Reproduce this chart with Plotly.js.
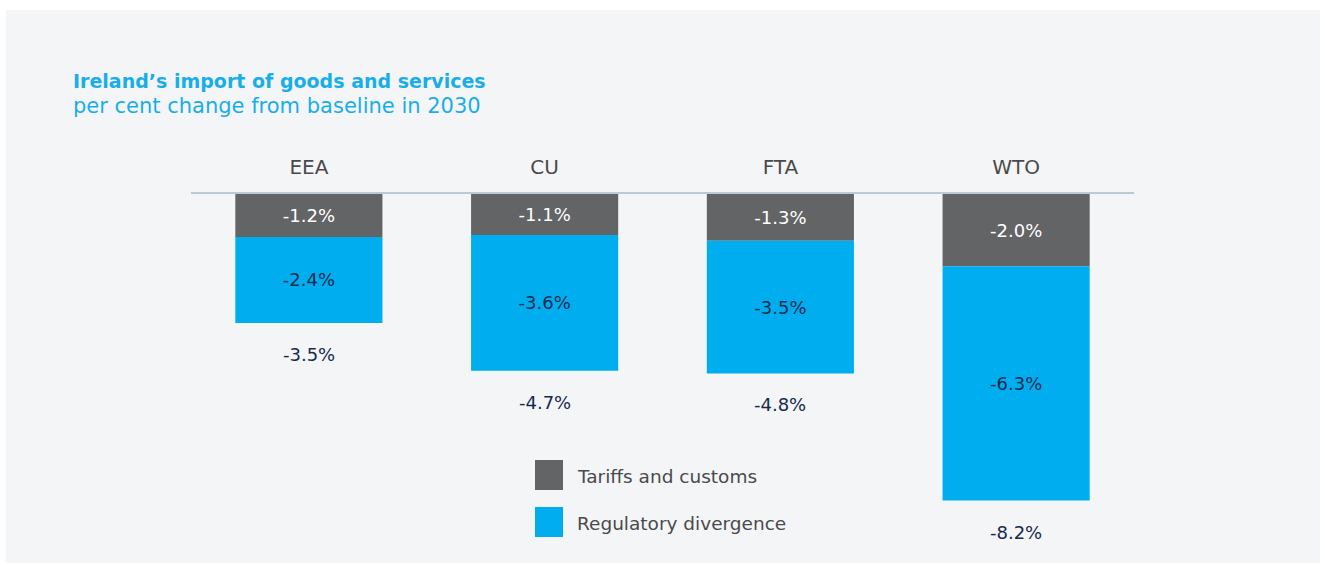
<!DOCTYPE html>
<html>
<head>
<meta charset="utf-8">
<script src="https://cdn.plot.ly/plotly-3.0.1.min.js"></script>
<style>
  html, body { margin: 0; padding: 0; background: #ffffff; }
  #panel { position: absolute; left: 6px; top: 10px; width: 1314px; height: 553px; background: #f4f5f7; }
  #chart { width: 1314px; height: 553px; }
</style>
</head>
<body>
<div id="panel"><div id="chart"></div></div>
<script>
// ---- data ----
const categories = ["EEA", "CU", "FTA", "WTO"];
const tariffs = [-1.15, -1.1, -1.25, -1.93];
const regulatory = [-2.3, -3.63, -3.55, -6.27];
const tariffLabels = ["-1.2%", "-1.1%", "-1.3%", "-2.0%"];
const regulatoryLabels = ["-2.4%", "-3.6%", "-3.5%", "-6.3%"];
const totalLabels = ["-3.5%", "-4.7%", "-4.8%", "-8.2%"];
const seriesNames = ["Tariffs and customs", "Regulatory divergence"];

// ---- style ----
const W = 1314, H = 553;
const FONT = "DejaVu Sans, Open Sans, sans-serif";
const GREY = "#636466", BLUE = "#00aeef", NAVY = "#162a50", TITLE = "#19aee9";
const mL = 185, mR = 186, mT = 184, mB = 3;
const pw = W - mL - mR, ph = H - mT - mB;
const pxPerUnit = 37.38;
const yMin = -ph / pxPerUnit;
const px2x = px => (px - mL) / pw;          // div px -> paper x
const px2y = py => (H - mB - py) / ph;      // div px -> paper y

const traces = [
  {
    type: "bar", x: categories, y: tariffs, name: seriesNames[0],
    marker: { color: GREY, line: { width: 0 } },
    text: tariffLabels, textposition: "inside", insidetextanchor: "middle",
    textfont: { family: FONT, size: 18, color: "#ffffff" },
    hoverinfo: "skip", showlegend: false
  },
  {
    type: "bar", x: categories, y: regulatory, name: seriesNames[1],
    marker: { color: BLUE, line: { width: 0 } },
    text: regulatoryLabels, textposition: "inside", insidetextanchor: "middle",
    textfont: { family: FONT, size: 18, color: NAVY },
    hoverinfo: "skip", showlegend: false
  }
];

const annotations = [];
// totals below bars
categories.forEach((c, i) => {
  annotations.push({
    x: c, y: tariffs[i] + regulatory[i], xref: "x", yref: "y",
    text: totalLabels[i], showarrow: false, yanchor: "top", yshift: -19,
    font: { family: FONT, size: 18, color: NAVY }
  });
});
// title + subtitle
annotations.push({
  xref: "paper", yref: "paper", x: px2x(65), y: px2y(71), xanchor: "left", yanchor: "middle",
  text: "<b>Ireland’s import of goods and services</b>", showarrow: false,
  font: { family: FONT, size: 19, color: TITLE }
});
annotations.push({
  xref: "paper", yref: "paper", x: px2x(65), y: px2y(96), xanchor: "left", yanchor: "middle",
  text: "per cent change from baseline in 2030", showarrow: false,
  font: { family: FONT, size: 21, color: TITLE }
});
// legend
const legendItems = [
  { name: seriesNames[0], color: GREY, top: 450 },
  { name: seriesNames[1], color: BLUE, top: 497 }
];
const shapes = [];
legendItems.forEach(it => {
  shapes.push({
    type: "rect", xref: "paper", yref: "paper",
    x0: px2x(529), x1: px2x(557), y0: px2y(it.top + 30), y1: px2y(it.top),
    fillcolor: it.color, line: { width: 0 }, layer: "above"
  });
  annotations.push({
    xref: "paper", yref: "paper", x: px2x(569), y: px2y(it.top + 16), xanchor: "left", yanchor: "middle",
    text: it.name, showarrow: false, font: { family: FONT, size: 18.5, color: "#4a4a4c" }
  });
});

const layout = {
  width: W, height: H,
  margin: { l: mL, r: mR, t: mT, b: mB, pad: 0 },
  paper_bgcolor: "#f4f5f7", plot_bgcolor: "rgba(0,0,0,0)",
  barmode: "relative", bargap: 0.376,
  showlegend: false,
  xaxis: {
    type: "category", side: "top", range: [-0.5, 3.5],
    showline: true, linecolor: "#b9c9d6", linewidth: 2,
    showgrid: false, zeroline: false, ticks: "",
    ticklabelstandoff: 10,
    tickfont: { family: FONT, size: 20, color: "#4a4a4c" }, fixedrange: true
  },
  yaxis: {
    range: [yMin, 0], showgrid: false, zeroline: false, showline: false,
    showticklabels: false, ticks: "", fixedrange: true
  },
  annotations: annotations,
  shapes: shapes,
  uniformtext: { mode: false }
};

Plotly.newPlot("chart", traces, layout, { displayModeBar: false, staticPlot: true });
</script>
</body>
</html>
